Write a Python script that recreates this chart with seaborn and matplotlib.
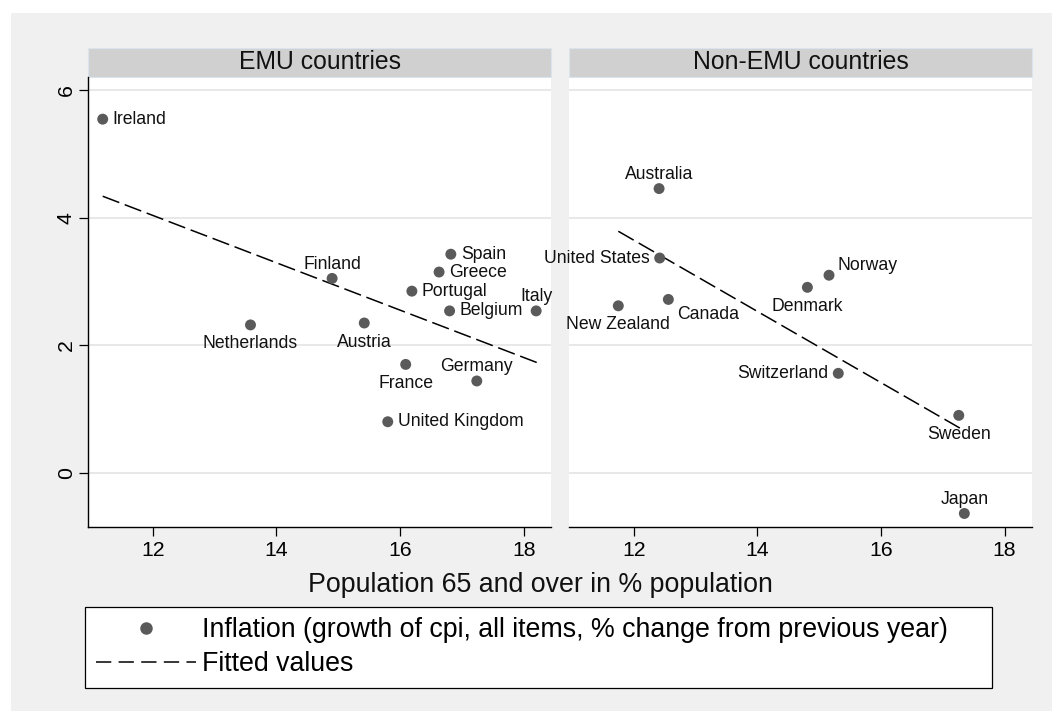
import matplotlib
matplotlib.use("Agg")

import matplotlib.pyplot as plt
import pandas as pd
import seaborn as sns
from matplotlib.lines import Line2D
from matplotlib.patches import Rectangle

# --- data ---
EMU_COUNTRIES = ["Ireland", "Finland", "Spain", "Greece", "Portugal", "Belgium",
                 "Italy", "Netherlands", "Austria", "France", "Germany", "United Kingdom"]
EMU_AGE65 = [11.19, 14.90, 16.82, 16.63, 16.19, 16.80, 18.20, 13.58, 15.42, 16.09, 17.24, 15.80]
EMU_INFLATION = [5.55, 3.05, 3.43, 3.15, 2.85, 2.54, 2.54, 2.32, 2.35, 1.70, 1.44, 0.80]

NON_EMU_COUNTRIES = ["Australia", "United States", "Norway", "Denmark", "New Zealand",
                     "Canada", "Switzerland", "Sweden", "Japan"]
NON_EMU_AGE65 = [12.41, 12.42, 15.16, 14.81, 11.75, 12.56, 15.31, 17.26, 17.35]
NON_EMU_INFLATION = [4.46, 3.37, 3.10, 2.91, 2.62, 2.72, 1.56, 0.90, -0.64]

# fitted values (linear fit per panel), read at the ends of each line
EMU_FIT_X = [11.19, 18.21]
EMU_FIT_Y = [4.34, 1.73]
NON_EMU_FIT_X = [11.75, 17.35]
NON_EMU_FIT_Y = [3.79, 0.66]

PANEL_TITLES = ["EMU countries", "Non-EMU countries"]
X_TICKS = [12, 14, 16, 18]
Y_TICKS = [0, 2, 4, 6]
X_LABEL = "Population 65 and over in % population"
LEGEND_LABELS = ["Inflation (growth of cpi, all items, % change from previous year)",
                 "Fitted values"]

# marker label placement, as clock positions
LABEL_CLOCK = {
    "Ireland": 3, "Finland": 12, "Spain": 3, "Greece": 3, "Portugal": 3, "Belgium": 3,
    "Italy": 12, "Netherlands": 6, "Austria": 6, "France": 6, "Germany": 12,
    "United Kingdom": 3, "Australia": 12, "United States": 9, "Norway": 2,
    "Denmark": 6, "New Zealand": 6, "Canada": 4, "Switzerland": 9, "Sweden": 6,
    "Japan": 12,
}
CLOCK_OFFSET = {  # (dx, dy) in points, horizontal alignment
    3: ((7.2, 0), "left"),
    9: ((-7.0, 0), "right"),
    12: ((0, 10.3), "center"),
    6: ((0, -13.7), "center"),
    2: ((6.3, 7.0), "left"),
    4: ((6.3, -10.5), "left"),
}

W, H = 1052, 711
MARKER_COLOR = "#5a5a5a"
OUTER_BG = "#f0f0f0"
STRIP_BG = "#d0d0d0"
GRID_COLOR = "#e6e6e6"
XLIM = (10.957, 18.44)
YLIM = (-0.857, 6.207)
FIT_DASH = (0, (11.6, 3.8))

sns.set_style("white")
plt.rcParams["font.family"] = ["Liberation Sans", "DejaVu Sans"]
plt.rcParams["text.color"] = "black"

emu = pd.DataFrame({"country": EMU_COUNTRIES, "age65": EMU_AGE65, "inflation": EMU_INFLATION})
non_emu = pd.DataFrame({"country": NON_EMU_COUNTRIES, "age65": NON_EMU_AGE65,
                        "inflation": NON_EMU_INFLATION})
panels = [
    (emu, EMU_FIT_X, EMU_FIT_Y),
    (non_emu, NON_EMU_FIT_X, NON_EMU_FIT_Y),
]

fig = plt.figure(figsize=(W / 100, H / 100), dpi=100)
fig.patch.set_facecolor("white")
fig.add_artist(Rectangle((11 / W, 0), 1 - 11 / W, 1 - 13 / H, transform=fig.transFigure,
                         facecolor=OUTER_BG, edgecolor="none", zorder=-10))

plot_bottom = 1 - 527.3 / H
plot_height = 450 / H
ax_left = fig.add_axes([88.3 / W, plot_bottom, 462.7 / W, plot_height])
ax_right = fig.add_axes([569.3 / W, plot_bottom, 462.4 / W, plot_height])
axes = [ax_left, ax_right]

for i, (ax, (df, fit_x, fit_y), title) in enumerate(zip(axes, panels, PANEL_TITLES)):
    ax.set_facecolor("white")
    ax.set_xlim(*XLIM)
    ax.set_ylim(*YLIM)
    ax.set_axisbelow(True)
    ax.yaxis.grid(True, color=GRID_COLOR, linewidth=1.3)
    ax.xaxis.grid(False)

    sns.lineplot(x=fit_x, y=fit_y, ax=ax, color="black", linewidth=1.1,
                 linestyle=FIT_DASH, estimator=None, zorder=2)
    sns.scatterplot(data=df, x="age65", y="inflation", ax=ax, color=MARKER_COLOR,
                    s=62, edgecolor="none", linewidth=0, legend=False, zorder=3)

    for _, row in df.iterrows():
        offset, ha = CLOCK_OFFSET[LABEL_CLOCK[row["country"]]]
        ax.annotate(row["country"], (row["age65"], row["inflation"]), xytext=offset,
                    textcoords="offset points", ha=ha, va="center", fontsize=12.7,
                    color="#111111", zorder=4)

    ax.set_xlabel("")
    ax.set_ylabel("")
    ax.set_xticks(X_TICKS)
    ax.set_xticklabels([str(v) for v in X_TICKS])
    ax.tick_params(axis="x", direction="out", length=6.5, width=0.9, pad=3.3,
                   labelsize=15.3, colors="black", bottom=True)
    for side in ["top", "right"]:
        ax.spines[side].set_visible(False)
    ax.spines["bottom"].set_color("black")
    ax.spines["bottom"].set_linewidth(1.0)

    if i == 0:
        ax.set_yticks(Y_TICKS)
        ax.set_yticklabels([str(v) for v in Y_TICKS], rotation=90, va="center")
        ax.tick_params(axis="y", direction="out", length=6.5, width=0.9, pad=2.4,
                       labelsize=15.3, colors="black", left=True)
        ax.spines["left"].set_color("black")
        ax.spines["left"].set_linewidth(1.0)
    else:
        ax.set_yticks(Y_TICKS)
        ax.tick_params(axis="y", left=False, labelleft=False)
        ax.spines["left"].set_visible(False)

    # facet strip
    strip_h = 29.6 / 450
    ax.add_patch(Rectangle((0, 1), 1, strip_h, transform=ax.transAxes, clip_on=False,
                           facecolor=STRIP_BG, edgecolor="#dbe4ec", linewidth=0.8))
    ax.text(0.5, 1 + (77.3 - 69.0) / 450, title, transform=ax.transAxes,
            ha="center", va="baseline", fontsize=17.8, color="#111111")

fig.text(540.3 / W, 1 - 592.3 / H, X_LABEL, ha="center", va="baseline",
         fontsize=19.3, color="#111111")

handles = [
    Line2D([], [], marker="o", linestyle="none", color=MARKER_COLOR,
           markersize=9, markeredgewidth=0),
    Line2D([], [], color="black", linewidth=1.1, linestyle=(0, (10, 4.8))),
]
leg = fig.legend(handles, LEGEND_LABELS, loc="upper left",
                 bbox_to_anchor=(85 / W, 1 - 686.7 / H, 907.3 / W, 80 / H),
                 mode="expand", ncol=1, fontsize=19.3, frameon=True, fancybox=False,
                 edgecolor="black", framealpha=1, facecolor="white", borderpad=0.4,
                 handlelength=3.75, handletextpad=0.22, labelspacing=0.3,
                 borderaxespad=0)
leg.get_frame().set_linewidth(0.9)

fig.savefig("out.png", dpi=100, facecolor=fig.get_facecolor())
